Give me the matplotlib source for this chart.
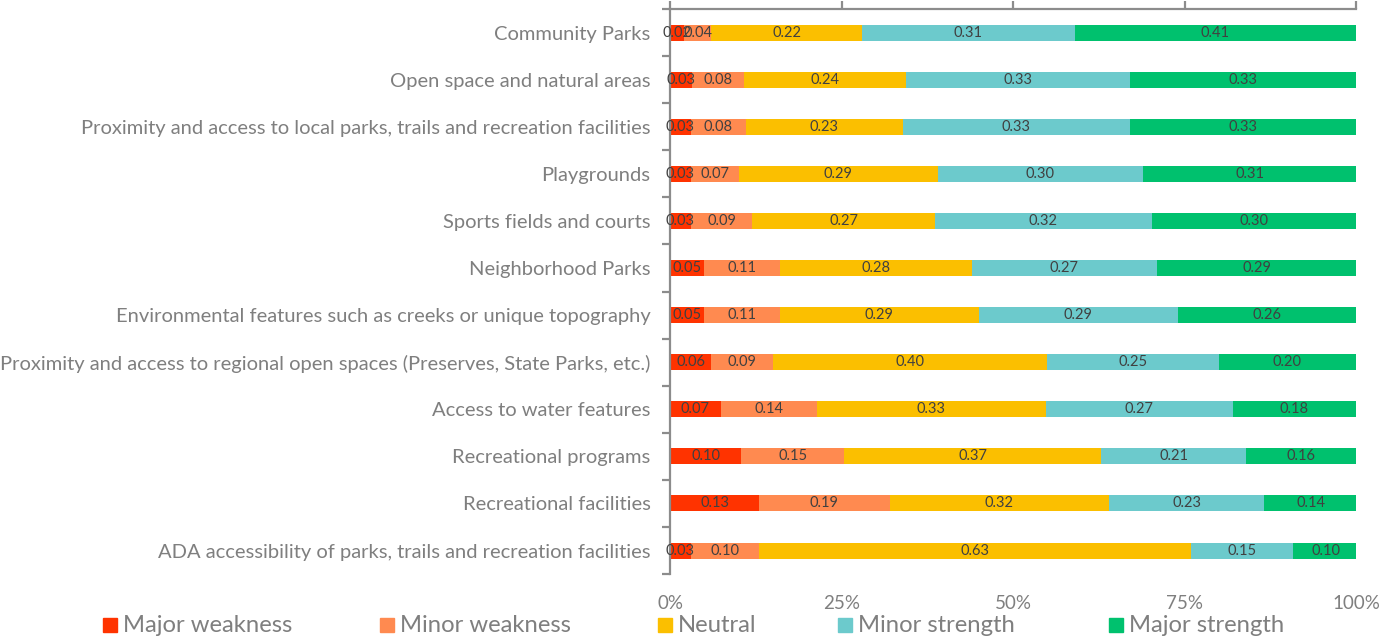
import matplotlib.pyplot as plt
from matplotlib.patches import Rectangle

categories = [
    "Community Parks",
    "Open space and natural areas",
    "Proximity and access to local parks, trails and recreation facilities",
    "Playgrounds",
    "Sports fields and courts",
    "Neighborhood Parks",
    "Environmental features such as creeks or unique topography",
    "Proximity and access to regional open spaces (Preserves, State Parks, etc.)",
    "Access to water features",
    "Recreational programs",
    "Recreational facilities",
    "ADA accessibility of parks, trails and recreation facilities",
]

series_names = ["Major weakness", "Minor weakness", "Neutral", "Minor strength", "Major strength"]

major_weakness = [0.02, 0.032, 0.03, 0.03, 0.03, 0.05, 0.05, 0.06, 0.074, 0.104, 0.13, 0.03]
minor_weakness = [0.04, 0.076, 0.08, 0.07, 0.09, 0.11, 0.11, 0.09, 0.14, 0.15, 0.19, 0.10]
neutral = [0.22, 0.236, 0.23, 0.29, 0.266, 0.28, 0.29, 0.40, 0.334, 0.374, 0.32, 0.63]
minor_strength = [0.31, 0.327, 0.33, 0.30, 0.316, 0.27, 0.29, 0.25, 0.272, 0.212, 0.226, 0.148]
major_strength = [0.41, 0.329, 0.33, 0.31, 0.298, 0.29, 0.26, 0.20, 0.18, 0.16, 0.136, 0.097]

colors = ["#FF3300", "#FF8A50", "#FBBF00", "#6CCACC", "#00C16E"]
x_ticks = [0, 0.25, 0.5, 0.75, 1.0]
x_labels = ["0%", "25%", "50%", "75%", "100%"]

plt.rcParams['font.family'] = ['Lato', 'DejaVu Sans']

fig = plt.figure(figsize=(13.83, 6.4), dpi=100)
ax = fig.add_axes([0.4845, 0.103, 0.4960, 0.883])

axis_gray = "#8C8C8C"
text_gray = "#7F7F7F"

ypos = list(range(len(categories)))
left = [0.0] * len(categories)
all_series = [major_weakness, minor_weakness, neutral, minor_strength, major_strength]
for vals, col in zip(all_series, colors):
    ax.barh(ypos, vals, left=left, height=0.34, color=col, edgecolor="none", zorder=2)
    for y, l, v in zip(ypos, left, vals):
        ax.text(l + v / 2, y, f"{v:.2f}", ha="center", va="center",
                fontsize=10.5, color="#404040", zorder=3)
    left = [a + b for a, b in zip(left, vals)]

ax.set_xlim(0, 1)
ax.set_ylim(len(categories) - 0.5, -0.5)

ax.set_yticks(ypos)
ax.set_yticklabels(categories, fontsize=14.5, color=text_gray)
ax.set_yticks([i - 0.5 for i in range(len(categories) + 1)], minor=True)
ax.tick_params(axis="y", which="major", length=0, pad=14)
ax.tick_params(axis="y", which="minor", length=6, width=1.6, color=axis_gray, direction="out")

ax.set_xticks(x_ticks)
ax.set_xticklabels(x_labels, fontsize=13.5, color=text_gray)
ax.tick_params(axis="x", top=True, bottom=False, labeltop=False, labelbottom=True,
               length=6, width=1.6, color=axis_gray, pad=9)

for s in ["right", "bottom"]:
    ax.spines[s].set_visible(False)
for s in ["left", "top"]:
    ax.spines[s].set_color(axis_gray)
    ax.spines[s].set_linewidth(1.6)

# legend drawn in figure coordinates
leg_x = [103, 380, 658, 838, 1109]
W, H = 1383, 640
for name, col, lx in zip(series_names, colors, leg_x):
    fig.patches.append(Rectangle((lx / W, 1 - 632 / H), 14 / W, 14 / H,
                                 transform=fig.transFigure, color=col))
    fig.text((lx + 20) / W, 1 - 625 / H, name, fontsize=17.2, color=text_gray,
             ha="left", va="center")

fig.savefig("out.png", dpi=100)
